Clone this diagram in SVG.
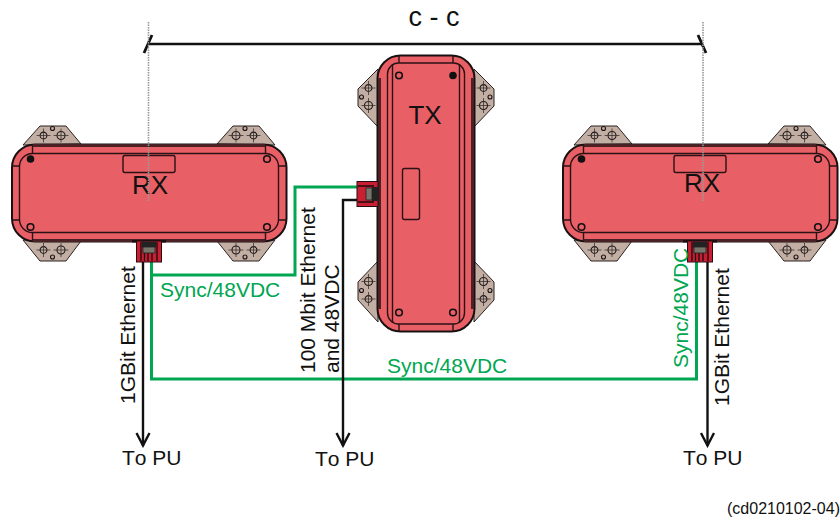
<svg xmlns="http://www.w3.org/2000/svg" width="840" height="520" viewBox="0 0 840 520">
<style>
text{font-family:"Liberation Sans",Arial,sans-serif;fill:#111;font-kerning:none}
.lbl{font-size:21px}
.big{font-size:26px}
.grn{fill:#00a651}
.tan{fill:#c2aea2;stroke:#2a2220;stroke-width:1;stroke-linejoin:round}
.body{fill:#e85f65;stroke:#1a1012;stroke-width:2}
.ln{fill:none;stroke:#2a1216;stroke-width:1.4}
.strip{fill:none;stroke:#4a2226;stroke-width:3}
.hole{fill:none;stroke:#1a1214;stroke-width:1.1}
.screw{fill:none;stroke:#111;stroke-width:1.6}
.xh{stroke:#3a3230;stroke-width:.8}
.wire-g{fill:none;stroke:#00a651;stroke-width:3}
.wire-k{fill:none;stroke:#111;stroke-width:2.4}
.dash{stroke:#999;stroke-width:1.6;stroke-dasharray:1.5 1;fill:none}
</style>
<defs>
<marker id="arr" markerUnits="userSpaceOnUse" markerWidth="16" markerHeight="16" refX="14.500" refY="8" orient="auto" viewBox="0 0 16 16"><path d="M1.500 1.500L14 8L1.500 14.500" fill="none" stroke="#111" stroke-width="2.400"/></marker>
<g id="mnt">
<circle class="hole" cx="0" cy="0" r="3.400"/><circle class="hole" cx="17.500" cy="0" r="4"/>
<path class="xh" d="M-7 0H7M0 -7V7M10 0H25M17.500 -7V7"/>
</g>
<g id="rx">
<path class="tan" d="M23 145L40 126H66L81 144ZM217 144L233 126H259L275 145ZM23 240L40 261H66L81 241ZM217 241L233 261H259L275 240Z"/>
<use href="#mnt" x="43.500" y="135.500"/><use href="#mnt" transform="translate(253.500 135.500) rotate(180)"/>
<use href="#mnt" x="43.500" y="250"/><use href="#mnt" transform="translate(253.500 250) rotate(180)"/>
<circle class="hole" cx="52.500" cy="128.500" r="2"/><circle class="hole" cx="245" cy="128.500" r="2"/>
<circle class="hole" cx="52.500" cy="257" r="2"/><circle class="hole" cx="245" cy="257" r="2"/>
<rect class="body" x="12" y="144.500" width="274.500" height="97" rx="23"/>
<rect class="ln" x="19.500" y="153.500" width="259" height="79" rx="13"/>
<path class="strip" d="M33 145.500H265M33 240.500H265"/>
<path class="ln" d="M32.500 145.500V153.500M265.500 145.500V153.500M32.500 232.500V240.500M265.500 232.500V240.500M12 166H19.500M12 220H19.500M278.500 166H286.500M278.500 220H286.500"/>
<rect class="ln" x="123" y="155.500" width="52" height="17" rx="2"/>
<circle fill="#111" cx="30.500" cy="159" r="3.800"/>
<circle class="screw" cx="267" cy="159" r="3.300"/><circle class="screw" cx="30.500" cy="227" r="3.300"/><circle class="screw" cx="267" cy="227" r="3.300"/>
<rect x="132" y="240" width="34" height="2.500" fill="#1a1012"/>
<rect x="136.500" y="241" width="25" height="21" fill="#c91f33" stroke="#2a0a10" stroke-width="1"/>
<path d="M141 242V261M144.500 252V261M148 252V261M152 252V261M157 242V261" stroke="#1c0a0e" stroke-width="1.300"/>
<rect x="142" y="241.500" width="14" height="6" fill="#222"/><rect x="143" y="247" width="12" height="6" fill="#77746a" stroke="#222" stroke-width=".8"/>
</g>
</defs>

<g id="connectors">
<path d="M148 44H702" fill="none" stroke="#111" stroke-width="2.400"/>
<path d="M144 53L152 35M698 35L706 53" fill="none" stroke="#111" stroke-width="2.800"/>
<path class="wire-g" d="M151.500 261V275H295V187H358"/>
<path class="wire-g" d="M151.500 275V379H696.500V262"/>
<path class="wire-k" d="M143 262V446" marker-end="url(#arr)"/>
<path class="wire-k" d="M378 200H343V446" marker-end="url(#arr)"/>
<path class="wire-k" d="M707.500 262V446" marker-end="url(#arr)"/>
</g>

<g id="node-rx-left"><use href="#rx"/><text class="big" x="150" y="194" text-anchor="middle">RX</text></g>
<g id="node-rx-right"><use href="#rx" x="551"/><text class="big" x="702" y="192" text-anchor="middle">RX</text></g>

<g id="node-tx">
<path class="tan" d="M378 69L358 89V106L378 127ZM474 69L494 89V106L474 127ZM378 261L358 282V300L378 322ZM474 261L494 282V300L474 322Z"/>
<use href="#mnt" transform="translate(368.500 88) rotate(90)"/><use href="#mnt" transform="translate(483.500 88) rotate(90)"/>
<use href="#mnt" transform="translate(368.500 299) rotate(-90)"/><use href="#mnt" transform="translate(483.500 299) rotate(-90)"/>
<circle class="hole" cx="361.500" cy="97" r="2"/><circle class="hole" cx="490" cy="97" r="2"/>
<circle class="hole" cx="361.500" cy="290.500" r="2"/><circle class="hole" cx="490" cy="290.500" r="2"/>
<rect class="body" x="377.500" y="55.500" width="97" height="276" rx="23"/>
<path class="strip" d="M379.500 78V309M472.500 78V309"/>
<rect class="ln" x="387.500" y="63" width="77" height="261" rx="11"/>
<path class="ln" d="M392.500 64V323M459.500 64V323M399 56V63M453 56V63M399 324V331M453 324V331"/>
<rect class="ln" x="402.500" y="168.500" width="17" height="51" rx="2"/>
<circle class="screw" cx="399" cy="75.500" r="3.300"/><circle fill="#111" cx="453" cy="75.500" r="3.800"/>
<circle class="screw" cx="399" cy="312.500" r="3.300"/><circle class="screw" cx="453" cy="312.500" r="3.300"/>
<rect x="357" y="181.500" width="21" height="25" fill="#c91f33" stroke="#2a0a10" stroke-width="1"/>
<path d="M358 186H374M358 202H374" stroke="#1c0a0e" stroke-width="1.300"/>
<rect x="366" y="188" width="6" height="12" fill="#77746a" stroke="#222" stroke-width=".8"/><rect x="372" y="187" width="6" height="14" fill="#222"/>
<text class="big" x="425" y="124" text-anchor="middle">TX</text>
</g>

<g id="centerlines"><path class="dash" d="M148.500 22V202M703 22V202"/></g>

<text x="434" y="26" text-anchor="middle" font-size="27" xml:space="preserve">c - c</text>
<text class="lbl grn" x="160" y="297">Sync/48VDC</text>
<text class="lbl grn" x="387" y="373">Sync/48VDC</text>
<text class="lbl grn" transform="translate(688 368) rotate(-90)">Sync/48VDC</text>
<text class="lbl" transform="translate(135 404) rotate(-90)">1GBit Ethernet</text>
<text class="lbl" transform="translate(729 406) rotate(-90)">1GBit Ethernet</text>
<text class="lbl" transform="translate(315 373) rotate(-90)">100 Mbit Ethernet</text>
<text class="lbl" transform="translate(339 373) rotate(-90)">and 48VDC</text>
<text class="lbl" x="122" y="465">To PU</text>
<text class="lbl" x="315" y="466">To PU</text>
<text class="lbl" x="683" y="465">To PU</text>
<text x="727" y="514" font-size="16">(cd0210102-04)</text>
</svg>
